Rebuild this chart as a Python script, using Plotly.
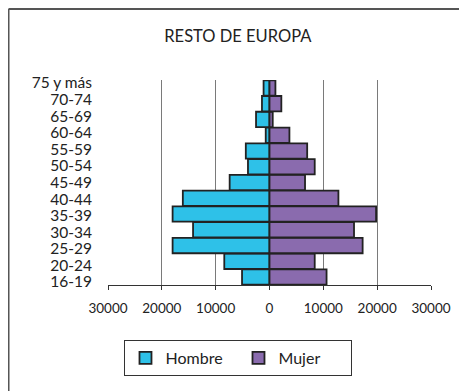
import plotly.graph_objects as go

## data
age_groups = ['16-19', '20-24', '25-29', '30-34', '35-39', '40-44', '45-49',
              '50-54', '55-59', '60-64', '65-69', '70-74', '75 y más']
hombre = [5100, 8400, 18000, 14200, 18000, 16100, 7400,
          4000, 4400, 700, 2500, 1400, 1100]
mujer = [10600, 8400, 17300, 15700, 19800, 12800, 6600,
         8400, 7000, 3700, 600, 2200, 1100]
x_ticks = [-30000, -20000, -10000, 0, 10000, 20000, 30000]

## page body adds an 8px margin, so the figure is drawn 8px smaller
params = dict(
    width = 459, height = 383,
    margin = dict(l = 100, r = 36, t = 72, b = 106),
    font = 'Lato, "Open Sans", sans-serif',
    colors = dict(hombre = '#2EC1E8', mujer = '#8A6BAE', edge = '#222222',
                  grid = '#7a7a7a', text = '#222222'),
    )


def make_figure():
    fig = go.Figure()
    fig.add_trace(go.Bar(
        y = age_groups, x = [-v for v in hombre], name = 'Hombre', orientation = 'h',
        marker = dict(color = params['colors']['hombre'],
                      line = dict(color = params['colors']['edge'], width = 1.8)),
        hoverinfo = 'none'))
    fig.add_trace(go.Bar(
        y = age_groups, x = mujer, name = 'Mujer', orientation = 'h',
        marker = dict(color = params['colors']['mujer'],
                      line = dict(color = params['colors']['edge'], width = 1.8)),
        hoverinfo = 'none'))
    ## carrier for the label axis (labels are spread a bit wider than the bars)
    fig.add_trace(go.Scatter(
        x = [0] * len(age_groups), y = list(range(len(age_groups))), yaxis = 'y2',
        mode = 'markers', marker = dict(opacity = 0), showlegend = False,
        hoverinfo = 'none'))

    fig.update_layout(
        width = params['width'], height = params['height'],
        margin = params['margin'],
        barmode = 'relative', bargap = 0.03,
        plot_bgcolor = 'white', paper_bgcolor = 'white',
        font = dict(family = params['font'], color = params['colors']['text'], size = 14),
        title = dict(text = 'RESTO DE EUROPA', xref = 'paper', x = 0.402, xanchor = 'center',
                     y = 1 - 28 / 383, yanchor = 'middle', font = dict(size = 16.5)),
        xaxis = dict(range = [-30000, 30000], tickvals = x_ticks,
                     ticktext = [str(abs(v)) for v in x_ticks],
                     showgrid = True, gridcolor = params['colors']['grid'], gridwidth = 1,
                     zeroline = False, showline = True, linecolor = '#333333', linewidth = 1,
                     ticks = 'outside', ticklen = 4, tickcolor = '#333333',
                     ticklabelstandoff = 7, tickfont = dict(size = 13.5)),
        yaxis = dict(showticklabels = False, showgrid = False, zeroline = False,
                     range = [-0.5, 12.5]),
        yaxis2 = dict(overlaying = 'y', side = 'left', range = [-0.18, 12.18],
                      tickvals = list(range(len(age_groups))), ticktext = age_groups,
                      showgrid = False, zeroline = False, ticks = '',
                      ticklabelstandoff = 15, tickfont = dict(size = 15.5)),
        showlegend = True,
        legend = dict(orientation = 'h', x = 0.404, xanchor = 'center',
                      y = -0.268, yanchor = 'top', bordercolor = '#333333', borderwidth = 1,
                      font = dict(size = 16), traceorder = 'normal',
                      entrywidth = 68, itemwidth = 30),
        shapes = [
            dict(type = 'line', xref = 'paper', yref = 'paper',
                 x0 = -0.308, x1 = 1.2, y0 = 1.3463, y1 = 1.3463,
                 line = dict(color = '#555555', width = 2)),
            dict(type = 'line', xref = 'paper', yref = 'paper',
                 x0 = -0.308, x1 = -0.308, y0 = 1.3463, y1 = -0.6,
                 line = dict(color = '#555555', width = 2)),
            ],
        )
    return fig


if __name__ == '__main__':
    fig = make_figure()
    fig.write_html('out.html')
